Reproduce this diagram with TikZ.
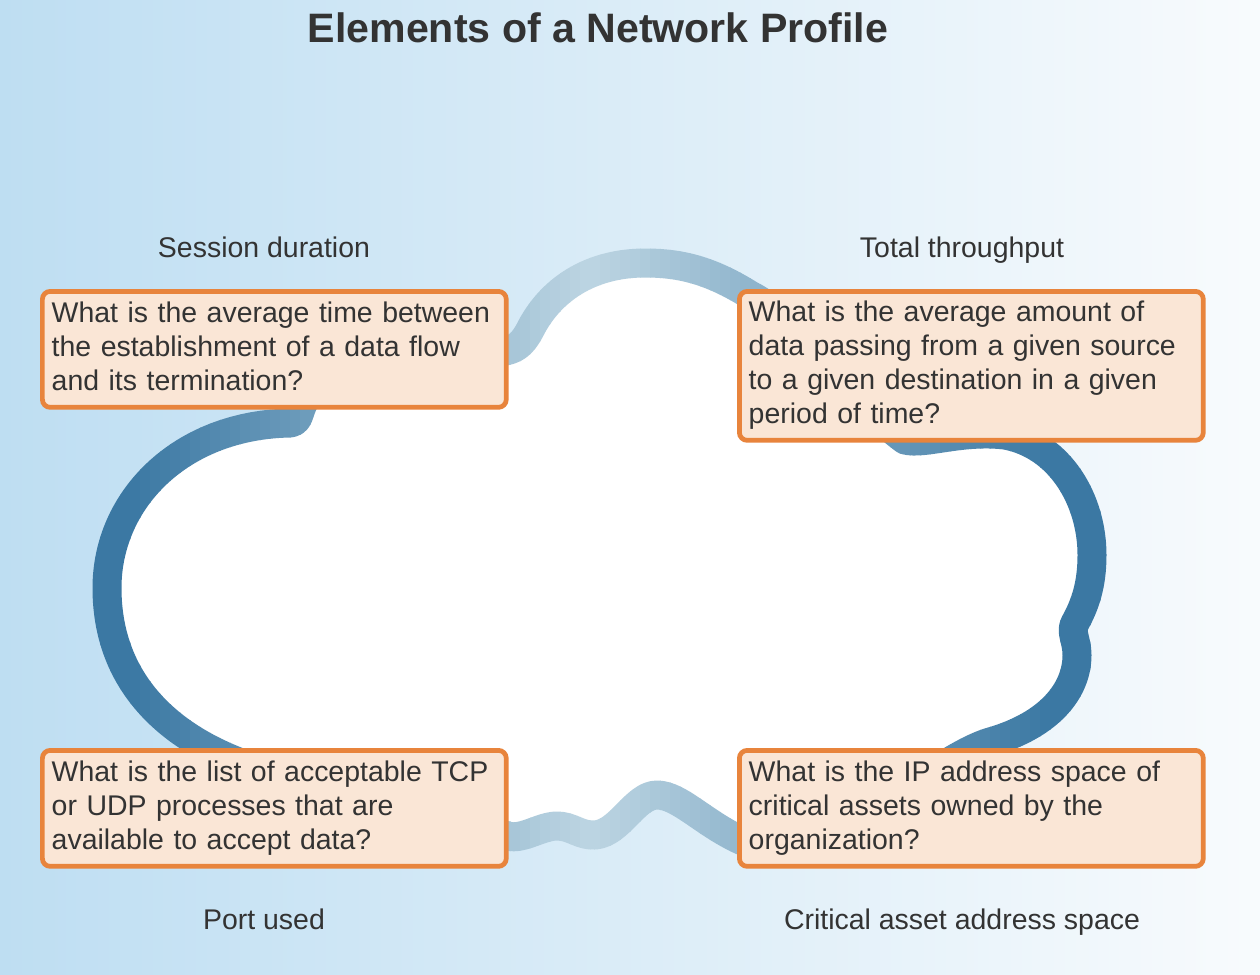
\documentclass[tikz,border=0pt]{standalone}
\usepackage{fontspec}
\setmainfont{Liberation Sans}

\definecolor{bgleft}{RGB}{190,222,242}
\definecolor{bgmid}{RGB}{221,237,247}
\definecolor{bgright}{RGB}{248,251,253}
\definecolor{clouddark}{RGB}{59,120,163}
\definecolor{cloudlight}{RGB}{190,214,227}
\definecolor{boxorange}{RGB}{232,132,60}
\definecolor{boxfill}{RGB}{250,230,214}
\definecolor{inkgray}{RGB}{51,51,51}

% cloud centre line, in pixels of the 1260 x 974 frame
\newcommand{\cloudoutline}{(290,423)
  .. controls (180,425) and (107,500) .. (107,588)
  .. controls (107,690) and (180,750) .. (280,775)
  .. controls (380,800) and (450,830) .. (505,835)
  .. controls (520,842) and (540,826) .. (557,826)
  .. controls (572,826) and (580,836) .. (595,835)
  .. controls (620,833) and (635,795) .. (657,795)
  .. controls (680,795) and (705,825) .. (745,842)
  .. controls (820,870) and (930,760) .. (990,742)
  .. controls (1050,725) and (1077,690) .. (1077,655)
  .. controls (1077,640) and (1070,632) .. (1075,623)
  .. controls (1085,605) and (1092,585) .. (1092,555)
  .. controls (1092,500) and (1060,445) .. (1005,435)
  .. controls (960,430) and (925,445) .. (905,440)
  .. controls (850,400) and (800,320) .. (750,295)
  .. controls (710,270) and (680,263) .. (645,263)
  .. controls (590,263) and (550,290) .. (530,330)
  .. controls (522,345) and (515,350) .. (500,352)
  .. controls (420,360) and (330,370) .. (305,400)
  .. controls (298,412) and (300,422) .. cycle}

\begin{document}
\begin{tikzpicture}[
  x=0.02cm, y=-0.02cm,
  heading/.style={font=\fontsize{23.4pt}{28pt}\selectfont\bfseries, text=inkgray},
  lbl/.style={font=\fontsize{16.2pt}{19.3pt}\selectfont, text=inkgray, anchor=base},
  box/.style={draw=boxorange, fill=boxfill, line width=2.7pt, rounded corners=4.5pt,
              anchor=north west, minimum width=9.28cm, text width=253.4pt,
              inner xsep=4.8pt, inner ysep=0pt, align=left, text=inkgray,
              font=\fontsize{16.2pt}{19.3pt}\selectfont,
              execute at begin node=\strut, execute at end node=\strut},
  cloudline/.style={line width=0.58cm, line join=round}
]
  \useasboundingbox (0,0) rectangle (1260,974);
  \shade[left color=bgleft, middle color=bgmid, right color=bgright]
    (0,0) rectangle (1260,974);

  % cloud: white body, outline shaded in thin vertical strips
  \fill[white] \cloudoutline;
  \foreach \x in {80,90,...,1110}{
    \pgfmathtruncatemacro\lt{max(0,100-abs(\x+5-590)/4.6)}
    \colorlet{strokeshade}{cloudlight!\lt!clouddark}
    \begin{scope}
      \clip (\x,-20) rectangle (\x+10.5,1000);
      \draw[cloudline, draw=strokeshade] \cloudoutline;
    \end{scope}
  }

  \node[heading, anchor=base] (title) at (598,42) {Elements of a Network Profile};

  \node[lbl] (durationlbl) at (264,257) {Session duration};
  \node[lbl] (throughputlbl) at (962,257) {Total throughput};
  \node[lbl] (portlbl) at (264,929) {Port used};
  \node[lbl] (assetlbl) at (962,929) {Critical asset address space};

  \node[box, minimum height=2.32cm] (duration) at (40,289)
    {What is the average time between\\the establishment of a data flow\\and its termination?};
  \node[box, minimum height=2.98cm] (throughput) at (737,289)
    {What is the average amount of\\data passing from a given source\\to a given destination in a given\\period of time?};
  \node[box, minimum height=2.32cm] (port) at (40,748)
    {What is the list of acceptable TCP\\or UDP processes that are\\available to accept data?};
  \node[box, minimum height=2.32cm] (asset) at (737,748)
    {What is the IP address space of\\critical assets owned by the\\organization?};
\end{tikzpicture}
\end{document}
